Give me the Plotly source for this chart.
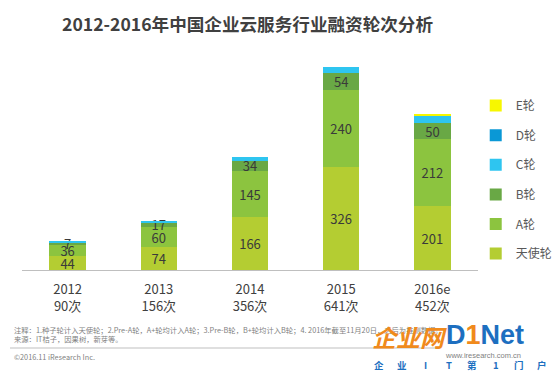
import plotly.graph_objects as go

years = ["2012", "2013", "2014", "2015", "2016e"]
totals = [90, 156, 356, 641, 452]
angel = [44, 74, 166, 326, 201]
round_a = [36, 60, 145, 240, 212]
round_b = [7, 17, 34, 54, 50]
round_c = [3, 5, 11, 21, 24]
round_d = [0, 0, 0, 0, 0]
round_e = [0, 0, 0, 0, 3]

series = [
    ("天使轮", angel, "#b4cd32", True),
    ("A轮", round_a, "#8cc43f", True),
    ("B轮", round_b, "#69a845", True),
    ("C轮", round_c, "#2ec5f0", False),
    ("D轮", round_d, "#0a98d6", False),
    ("E轮", round_e, "#f7f700", False),
]

cats = [f"{y}<br>{t}次" for y, t in zip(years, totals)]
FONT = "Noto Sans CJK SC, Noto Sans, sans-serif"

fig = go.Figure()
for i, (name, vals, color, show_text) in enumerate(series):
    fig.add_trace(go.Bar(
        x=cats, y=vals, name=name, legendgroup=name,
        legendrank=len(series) - i,
        marker=dict(color=color, line=dict(width=0)),
        text=[str(v) for v in vals] if show_text else None,
        textposition="inside" if show_text else "none",
        insidetextanchor="middle", textangle=0,
        textfont=dict(size=13, color="#3a3a3a", family=FONT),
        cliponaxis=False,
    ))

fig.update_layout(
    width=554, height=371,
    barmode="stack", bargap=0.6,
    paper_bgcolor="white", plot_bgcolor="white",
    margin=dict(l=22, r=76, t=60, b=101, autoexpand=False),
    font=dict(family=FONT, color="#404040"),
    uniformtext=dict(minsize=13, mode="show"),
    showlegend=True,
    legend=dict(
        x=0.995, y=0.852, xanchor="left", yanchor="top",
        traceorder="grouped", tracegroupgap=10.6,
        font=dict(size=12, color="#595959", family=FONT),
        bgcolor="rgba(0,0,0,0)",
    ),
    xaxis=dict(
        showline=True, linecolor="#bfbfbf", linewidth=1,
        showgrid=False, ticks="outside", ticklen=7, tickcolor="rgba(0,0,0,0)",
        zeroline=False,
        tickfont=dict(size=13, color="#404040", family=FONT),
    ),
    yaxis=dict(visible=False, range=[0, 662]),
)

ann = [
    dict(text="<b>2012-2016年中国企业云服务行业融资轮次分析</b>", x=247, y=24,
         font=dict(size=17.6, color="#404040")),
    dict(text="注释：1.种子轮计入天使轮；2.Pre-A轮，A+轮均计入A轮；3.Pre-B轮，B+轮均计入B轮；4. 2016年截至11月20日，之后为推测数据。",
         x=12, y=330, xanchor="left", font=dict(size=7.3, color="#7f7f7f")),
    dict(text="来源：IT桔子，因果树，新芽等。", x=12, y=339, xanchor="left",
         font=dict(size=7.3, color="#7f7f7f")),
    dict(text="©2016.11 iResearch Inc.", x=12, y=357, xanchor="left",
         font=dict(size=7.3, color="#7f7f7f")),
    dict(text="<b><i>企业网</i></b>", x=409, y=336,
         font=dict(size=24, color="#f08a1c")),
    dict(text="<b>D<span style='color:#f08a1c'>1</span>Net</b>", x=485, y=335,
         font=dict(size=27, color="#1d6fc0", family="Arial, Liberation Sans, sans-serif")),
    dict(text="www.iresearch.com.cn", x=483, y=355,
         font=dict(size=7.5, color="#7f7f7f", family="Arial, Liberation Sans, sans-serif")),
]
slogan = ["企", "业", "I", "T", "第", "1", "门", "户"]
for k, ch in enumerate(slogan):
    ann.append(dict(text=f"<b>{ch}</b>", x=379 + k * 23.3, y=365,
                    font=dict(size=9.5, color="#1d6fc0")))

annotations = []
for a in ann:
    d = dict(xref="paper", yref="paper", showarrow=False, xanchor=a.get("xanchor", "center"),
             yanchor="middle", text=a["text"], font=a["font"])
    d["x"] = (a["x"] - 22) / 456
    d["y"] = (270 - a["y"]) / 210
    annotations.append(d)
fig.update_layout(annotations=annotations)

fig.add_shape(type="line", xref="paper", yref="paper",
              x0=(10 - 22) / 456, x1=(440 - 22) / 456,
              y0=(270 - 348) / 210, y1=(270 - 348) / 210,
              line=dict(color="#bfbfbf", width=1))

fig.write_html("out.html", config={"displayModeBar": False},
               post_script="document.body.style.margin='0px';")
